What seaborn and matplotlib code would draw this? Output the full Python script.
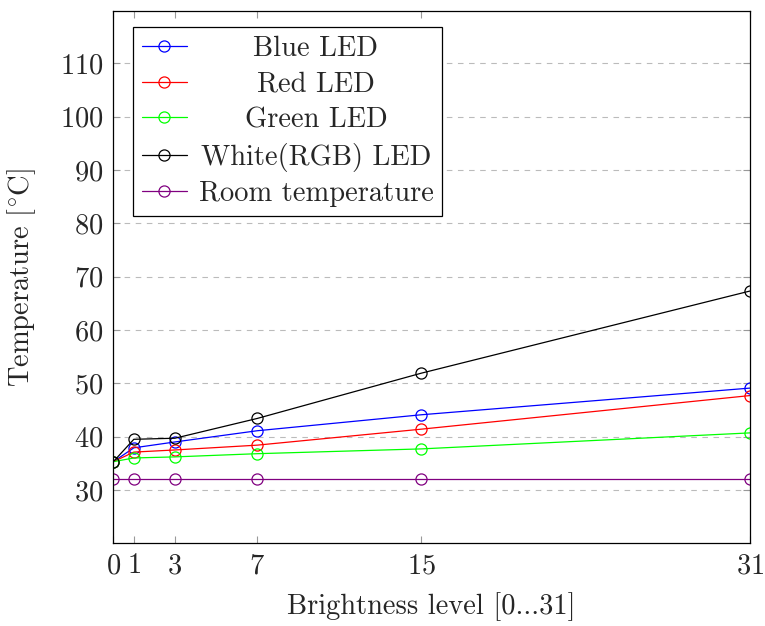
import matplotlib
matplotlib.use("Agg")
import matplotlib.pyplot as plt
import seaborn as sns
import pandas as pd

brightness = [0, 1, 3, 7, 15, 31]
blue_led = [35.3, 37.9, 39.0, 41.1, 44.1, 49.1]
red_led = [35.3, 37.1, 37.5, 38.4, 41.4, 47.7]
green_led = [35.3, 36.0, 36.2, 36.8, 37.7, 40.7]
white_led = [35.3, 39.5, 39.7, 43.4, 51.9, 67.3]
room_temp = [32.0, 32.0, 32.0, 32.0, 32.0, 32.0]

series = {
    "Blue LED": (blue_led, "blue"),
    "Red LED": (red_led, "red"),
    "Green LED": (green_led, "#00ff00"),
    "White(RGB) LED": (white_led, "black"),
    "Room temperature": (room_temp, "#800080"),
}

sns.set_style("ticks")
plt.rcParams["font.family"] = ["cmr10", "DejaVu Serif"]
plt.rcParams["mathtext.fontset"] = "cm"
plt.rcParams["axes.formatter.use_mathtext"] = True

FS = 20.5
fig = plt.figure(figsize=(7.65, 6.26), dpi=100)
ax = fig.add_axes([113.3 / 765, 1 - 543.3 / 626, (750 - 113.3) / 765, (543.3 - 11) / 626])

for name, (vals, col) in series.items():
    df = pd.DataFrame({"Brightness": brightness, "Temp": vals})
    sns.lineplot(data=df, x="Brightness", y="Temp", ax=ax, color=col, label=name,
                 marker="o", markersize=8, markerfacecolor="none",
                 markeredgecolor=col, markeredgewidth=0.9, linewidth=0.9)

ax.set_xlim(0, 31)
ax.set_ylim(20, 119.8)
ax.set_xticks(brightness)
ax.set_yticks(range(30, 111, 10))
ax.yaxis.grid(True, linestyle=(0, (5, 5)), color="#bbbbbb", linewidth=0.8)
ax.xaxis.grid(False)
ax.tick_params(direction="in", length=5, color="#999999", labelsize=FS,
               top=True, right=True, pad=7)
for s in ax.spines.values():
    s.set_color("black")
    s.set_linewidth(0.9)

ax.set_xlabel("Brightness level [0...31]", fontsize=FS, labelpad=9)
ax.set_ylabel(r"Temperature [$^{\circ}$C]", fontsize=FS, labelpad=16)

leg = ax.legend(loc="upper left", fontsize=FS, frameon=True, fancybox=False,
                edgecolor="black", framealpha=1, handlelength=1.6,
                borderpad=0.3, labelspacing=0.33, handletextpad=0.4,
                borderaxespad=0, bbox_to_anchor=(0.031, 0.97))
leg.get_frame().set_linewidth(0.9)
# center the label texts within the column width
renderer = fig.canvas.get_renderer()
widths = [t.get_window_extent(renderer).width for t in leg.get_texts()]
maxw = max(widths)
for t, w in zip(leg.get_texts(), widths):
    t.set_position(((maxw - w) / 2, 0))

fig.savefig("out.png", dpi=100)
